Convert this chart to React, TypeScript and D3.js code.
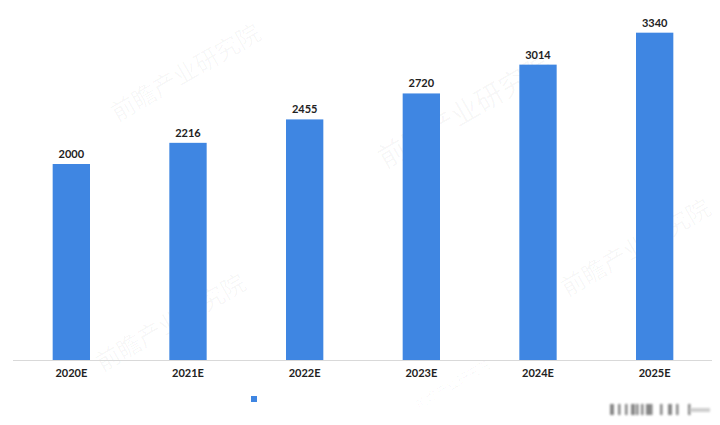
import React from "react";
import * as d3 from "d3";

const categories = ["2020E", "2021E", "2022E", "2023E", "2024E", "2025E"];
const values = [2000, 2216, 2455, 2720, 3014, 3340];
const watermarks = [
  { x: 190, y: 80, s: 24 },
  { x: 470, y: 120, s: 28 },
  { x: 640, y: 255, s: 24 },
  { x: 175, y: 330, s: 24 },
  { x: 455, y: 388, s: 12 },
];

const W = 720;
const H = 425;

export default function App() {
  const x = d3.scaleBand<string>().domain(categories).range([13, 713]).paddingInner(0.68).paddingOuter(0.34);
  const y = d3.scaleLinear().domain([0, 3600]).range([360, 360 - 3600 * 0.098]);
  const color = "#3F86E2";
  const font = "Lato, 'Open Sans', sans-serif";
  return (
    <svg width={W} height={H} style={{ position: "absolute", left: 0, top: 0, background: "#fff" }}>
      <rect width={W} height={H} fill="#fff" />
      {watermarks.map((w, i) => (
        <text
          key={"w" + i}
          transform={`translate(${w.x},${w.y}) rotate(-30)`}
          textAnchor="middle"
          fontSize={w.s}
          fontFamily="'Noto Sans CJK SC', sans-serif"
          fill="#000"
          fillOpacity={0.035}
        >
          前瞻产业研究院
        </text>
      ))}
      {categories.map((c, i) => (
        <g key={c}>
          <rect x={x(c)} y={y(values[i])} width={x.bandwidth()} height={y(0) - y(values[i])} fill={color} />
          <text
            x={x(c)! + x.bandwidth() / 2}
            y={y(values[i]) - 6}
            textAnchor="middle"
            fontFamily={font}
            fontWeight="bold"
            fontSize={11}
            fill="#222"
          >
            {values[i]}
          </text>
          <text
            x={x(c)! + x.bandwidth() / 2}
            y={377}
            textAnchor="middle"
            fontFamily={font}
            fontWeight="bold"
            fontSize={11}
            fill="#222"
          >
            {c}
          </text>
        </g>
      ))}
      <line x1={13} x2={712} y1={360.5} y2={360.5} stroke="#d9d9d9" strokeWidth={1} />
      <rect x={251} y={396} width={6} height={6} fill={color} />
      <defs>
        <filter id="blur"><feGaussianBlur stdDeviation="1.2" /></filter>
      </defs>
      <g filter="url(#blur)" fill="#555" opacity={0.7}>
        {[610, 618, 625, 631, 636, 641, 646, 650, 660, 668, 676, 688].map((px, i) => (
          <rect key={"b" + i} x={px} y={404} width={i % 3 === 0 ? 4 : 2.5} height={11} />
        ))}
        <rect x={690} y={408} width={20} height={4} fill="#bbb" />
      </g>
    </svg>
  );
}
